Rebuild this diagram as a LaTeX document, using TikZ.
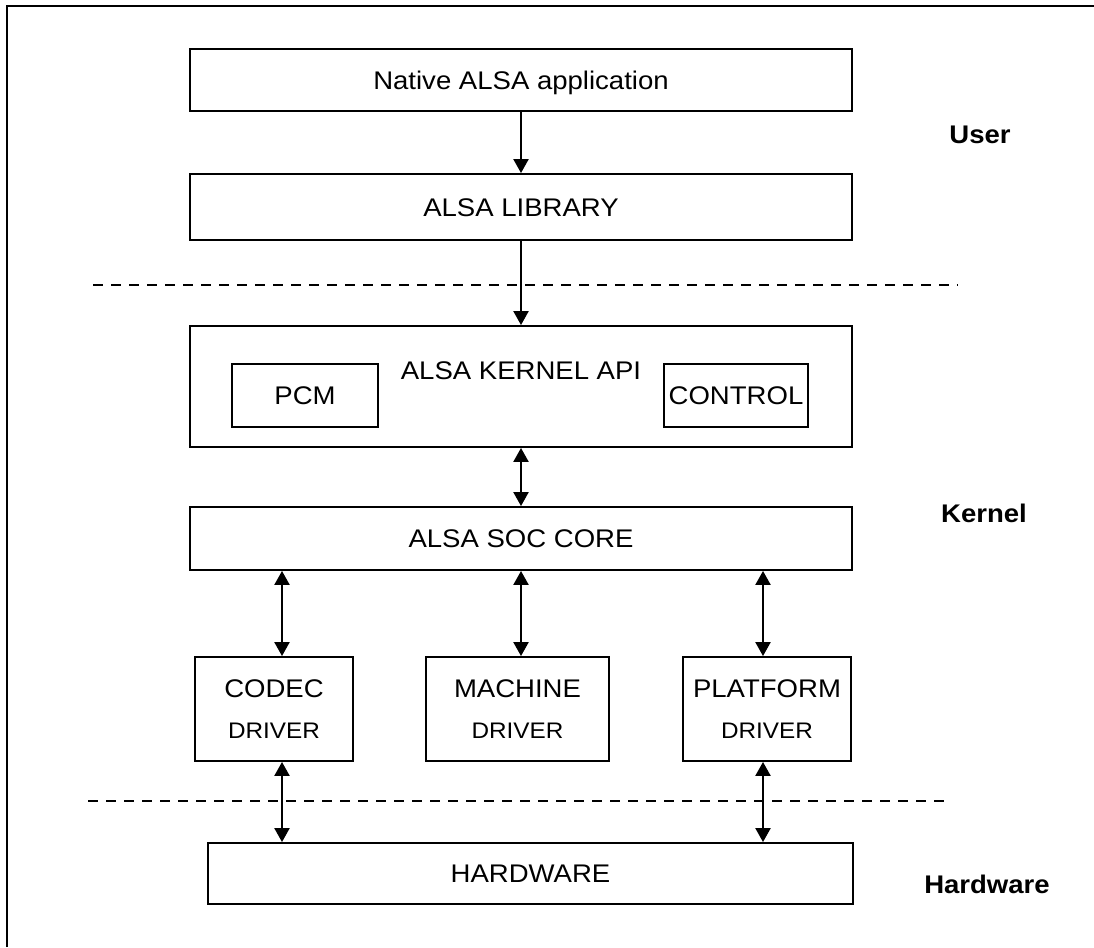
\documentclass[tikz,border=0pt]{standalone}
\usepackage{fontspec}
\setmainfont[FakeStretch=1.08]{Liberation Sans}
\usetikzlibrary{arrows.meta}
\newcommand\drvfont{\fontsize{22.5}{26}\selectfont}

\begin{document}
\begin{tikzpicture}[x=1pt,y=-1pt,
  box/.style={draw, line width=1.9pt, inner sep=0pt, text height=18.5pt, text depth=0pt,
              font=\fontsize{25.5}{30}\selectfont},
  plain/.style={inner sep=0pt, text height=18.5pt, text depth=0pt,
              font=\fontsize{25.5}{30}\selectfont},
  drvbox/.style={draw, line width=1.9pt, inner sep=0pt, align=center,
              font=\fontsize{25.5}{30}\selectfont,
              minimum width=#1, minimum height=104pt},
  layer/.style={inner sep=0pt, text height=18.5pt, text depth=0pt,
              font=\fontsize{25.5}{30}\selectfont\bfseries},
  sep/.style={line width=1.5pt, dash pattern=on 10pt off 8pt},
  one/.style={line width=2.3pt, -{Triangle[width=15pt,length=14pt]}},
  two/.style={line width=2.3pt, {Triangle[width=15pt,length=14pt]}-{Triangle[width=15pt,length=14pt]}}
]
\useasboundingbox (0,0) rectangle (1094,947);

% outer frame (top and left edges)
\draw[line width=2.2pt] (7,947) -- (7,6) -- (1094,6);

% user space
\node[box, minimum width=662pt, minimum height=62pt] (app) at (521,80) {Native ALSA application};
\node[box, minimum width=662pt, minimum height=66pt] (lib) at (521,207) {ALSA LIBRARY};

% kernel space
\node[box, minimum width=662pt, minimum height=121pt] (kapi) at (521,386.5) {};
\node[plain] (kapitxt) at (521,370) {ALSA KERNEL API};
\node[box, minimum width=146pt, minimum height=63pt] (pcm) at (305,395.5) {PCM};
\node[box, minimum width=144pt, minimum height=63pt] (ctrl) at (736,395.5) {CONTROL};

\node[box, minimum width=662pt, minimum height=63pt] (soc) at (521,538.5) {ALSA SOC CORE};

\node[drvbox=158pt] (codec) at (274,709) {CODEC\\[11pt]{\drvfont DRIVER}};
\node[drvbox=183pt] (machine) at (517.5,709) {MACHINE\\[11pt]{\drvfont DRIVER}};
\node[drvbox=168pt] (platform) at (767,709) {PLATFORM\\[11pt]{\drvfont DRIVER}};

% hardware
\node[box, minimum width=645pt, minimum height=61pt] (hw) at (530.5,873.5) {HARDWARE};

% layer names
\node[layer] (user) at (980,134) {User};
\node[layer] (kernel) at (984,513) {Kernel};
\node[layer] (hwlabel) at (987,884) {Hardware};

% layer boundaries
\coordinate (sepA) at (93,285);
\coordinate (sepAend) at (958,285);
\coordinate (sepB) at (88,801);
\coordinate (sepBend) at (950,801);
\draw[sep] (sepA) -- (sepAend);
\draw[sep] (sepB) -- (sepBend);

% connectors
\coordinate (xl) at (282,0);
\coordinate (xm) at (521,0);
\coordinate (xr) at (763,0);
\draw[one] (app.south) -- (lib.north);
\draw[one] (lib.south) -- (kapi.north);
\draw[two] (kapi.south) -- (soc.north);
\draw[two] (soc.south -| xl) -- (codec.north -| xl);
\draw[two] (soc.south -| xm) -- (machine.north -| xm);
\draw[two] (soc.south -| xr) -- (platform.north -| xr);
\draw[two] (codec.south -| xl) -- (hw.north -| xl);
\draw[two] (platform.south -| xr) -- (hw.north -| xr);
\end{tikzpicture}
\end{document}
